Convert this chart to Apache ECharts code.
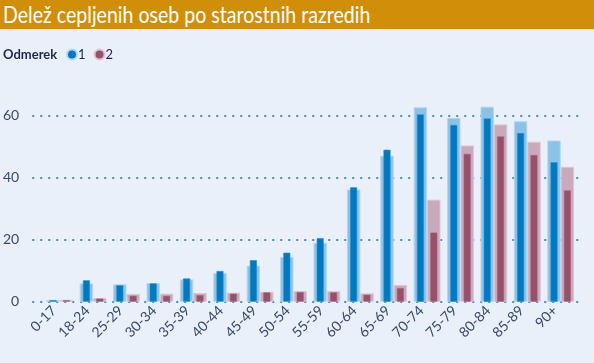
<!DOCTYPE html>
<html><head><meta charset="utf-8">
<script src="https://cdn.jsdelivr.net/npm/echarts@6/dist/echarts.min.js"></script>
<style>
html,body{margin:0;padding:0;background:#e9f0f9;}
#t{position:absolute;left:0;top:0;width:594px;height:29px;background:#d18f09;}
#t span{position:absolute;left:3px;top:0;color:#fff;font-family:"Lato",sans-serif;font-size:23px;line-height:28px;white-space:nowrap;transform:scaleX(0.85);transform-origin:0 0;}
#c{position:absolute;left:0;top:0;width:594px;height:363px;}
</style></head>
<body>
<div id="c"></div>
<div id="t"><span>Delež cepljenih oseb po starostnih razredih</span></div>
<script>
const categories = ['0-17','18-24','25-29','30-34','35-39','40-44','45-49','50-54','55-59','60-64','65-69','70-74','75-79','80-84','85-89','90+'];
const dose1Light = [0.5,5.9,5.6,6.0,7.2,9.2,11.6,14.4,19.0,36.2,47.1,62.7,59.3,62.9,58.2,52.0];
const dose1Dark  = [0.5,6.9,5.3,5.9,7.5,9.9,13.4,15.8,20.5,36.9,49.0,60.4,57.0,59.1,54.4,45.0];
const dose2Light = [0.6,1.2,2.5,2.6,2.8,2.9,3.2,3.4,3.4,2.7,5.4,32.9,50.4,57.2,51.6,43.5];
const dose2Dark  = [0.5,1.0,1.9,1.9,2.1,2.6,3.0,3.1,3.0,2.25,4.4,22.3,47.7,53.3,47.3,35.9];
const yTicks = [0,20,40,60];

const chart = echarts.init(document.getElementById('c'));
const lbl = {color:'#3a4a66', fontFamily:'Lato', fontSize:14};
chart.setOption({
  animation:false,
  backgroundColor:'#e9f0f9',
  legend:{
    left:61, top:43, itemWidth:10, itemHeight:10, itemGap:8, icon:'circle',
    textStyle:{color:'#1b2a48', fontFamily:'Lato', fontSize:13, padding:[0,0,0,-4]},
    data:[{name:'1', itemStyle:{color:'#0079c1'}},{name:'2', itemStyle:{color:'#96506a'}}]
  },
  graphic:[{type:'text', left:3, top:48, style:{text:'Odmerek', fill:'#1b2a48', font:'bold 13px "Lato"'}}],
  grid:[
    {left:43, right:16.6, top:84.7, bottom:61.3},
    {left:32, right:11, top:115.7, bottom:61.3}
  ],
  xAxis:[
    {type:'category', gridIndex:0, data:categories, axisLine:{show:false}, axisTick:{show:false},
     axisLabel:Object.assign({rotate:45, margin:1, interval:0, padding:[0,8,0,0]}, lbl)},
    {type:'category', gridIndex:0, data:categories, show:false},
    {type:'value', gridIndex:1, show:false}
  ],
  yAxis:[
    {type:'value', gridIndex:0, min:0, max:70, show:false},
    {type:'value', gridIndex:1, min:0, max:60, interval:20, axisLine:{show:false}, axisTick:{show:false},
     axisLabel:Object.assign({margin:13}, lbl),
     splitLine:{lineStyle:{color:'#3d8fd0', type:[2,6], width:2}}}
  ],
  series:[
    {name:'1', type:'bar', xAxisIndex:0, yAxisIndex:0, data:dose1Light, barWidth:13.4, barGap:'0%',
     itemStyle:{color:'#8cc2e7', borderColor:'#b3d6f0', borderWidth:1}},
    {name:'2', type:'bar', xAxisIndex:0, yAxisIndex:0, data:dose2Light, barWidth:13.4, barGap:'0%',
     itemStyle:{color:'#c9aabc', borderColor:'#dcc6d2', borderWidth:1}},
    {name:'1', type:'bar', xAxisIndex:1, yAxisIndex:0, data:dose1Dark, barWidth:7, barGap:'91%', z:3,
     itemStyle:{color:'#0079c1', borderColor:'#2b8fcc', borderWidth:0.6}},
    {name:'2', type:'bar', xAxisIndex:1, yAxisIndex:0, data:dose2Dark, barWidth:7, barGap:'91%', z:3,
     itemStyle:{color:'#96506a', borderColor:'#a5667d', borderWidth:0.6}}
  ]
});
</script>
</body></html>
